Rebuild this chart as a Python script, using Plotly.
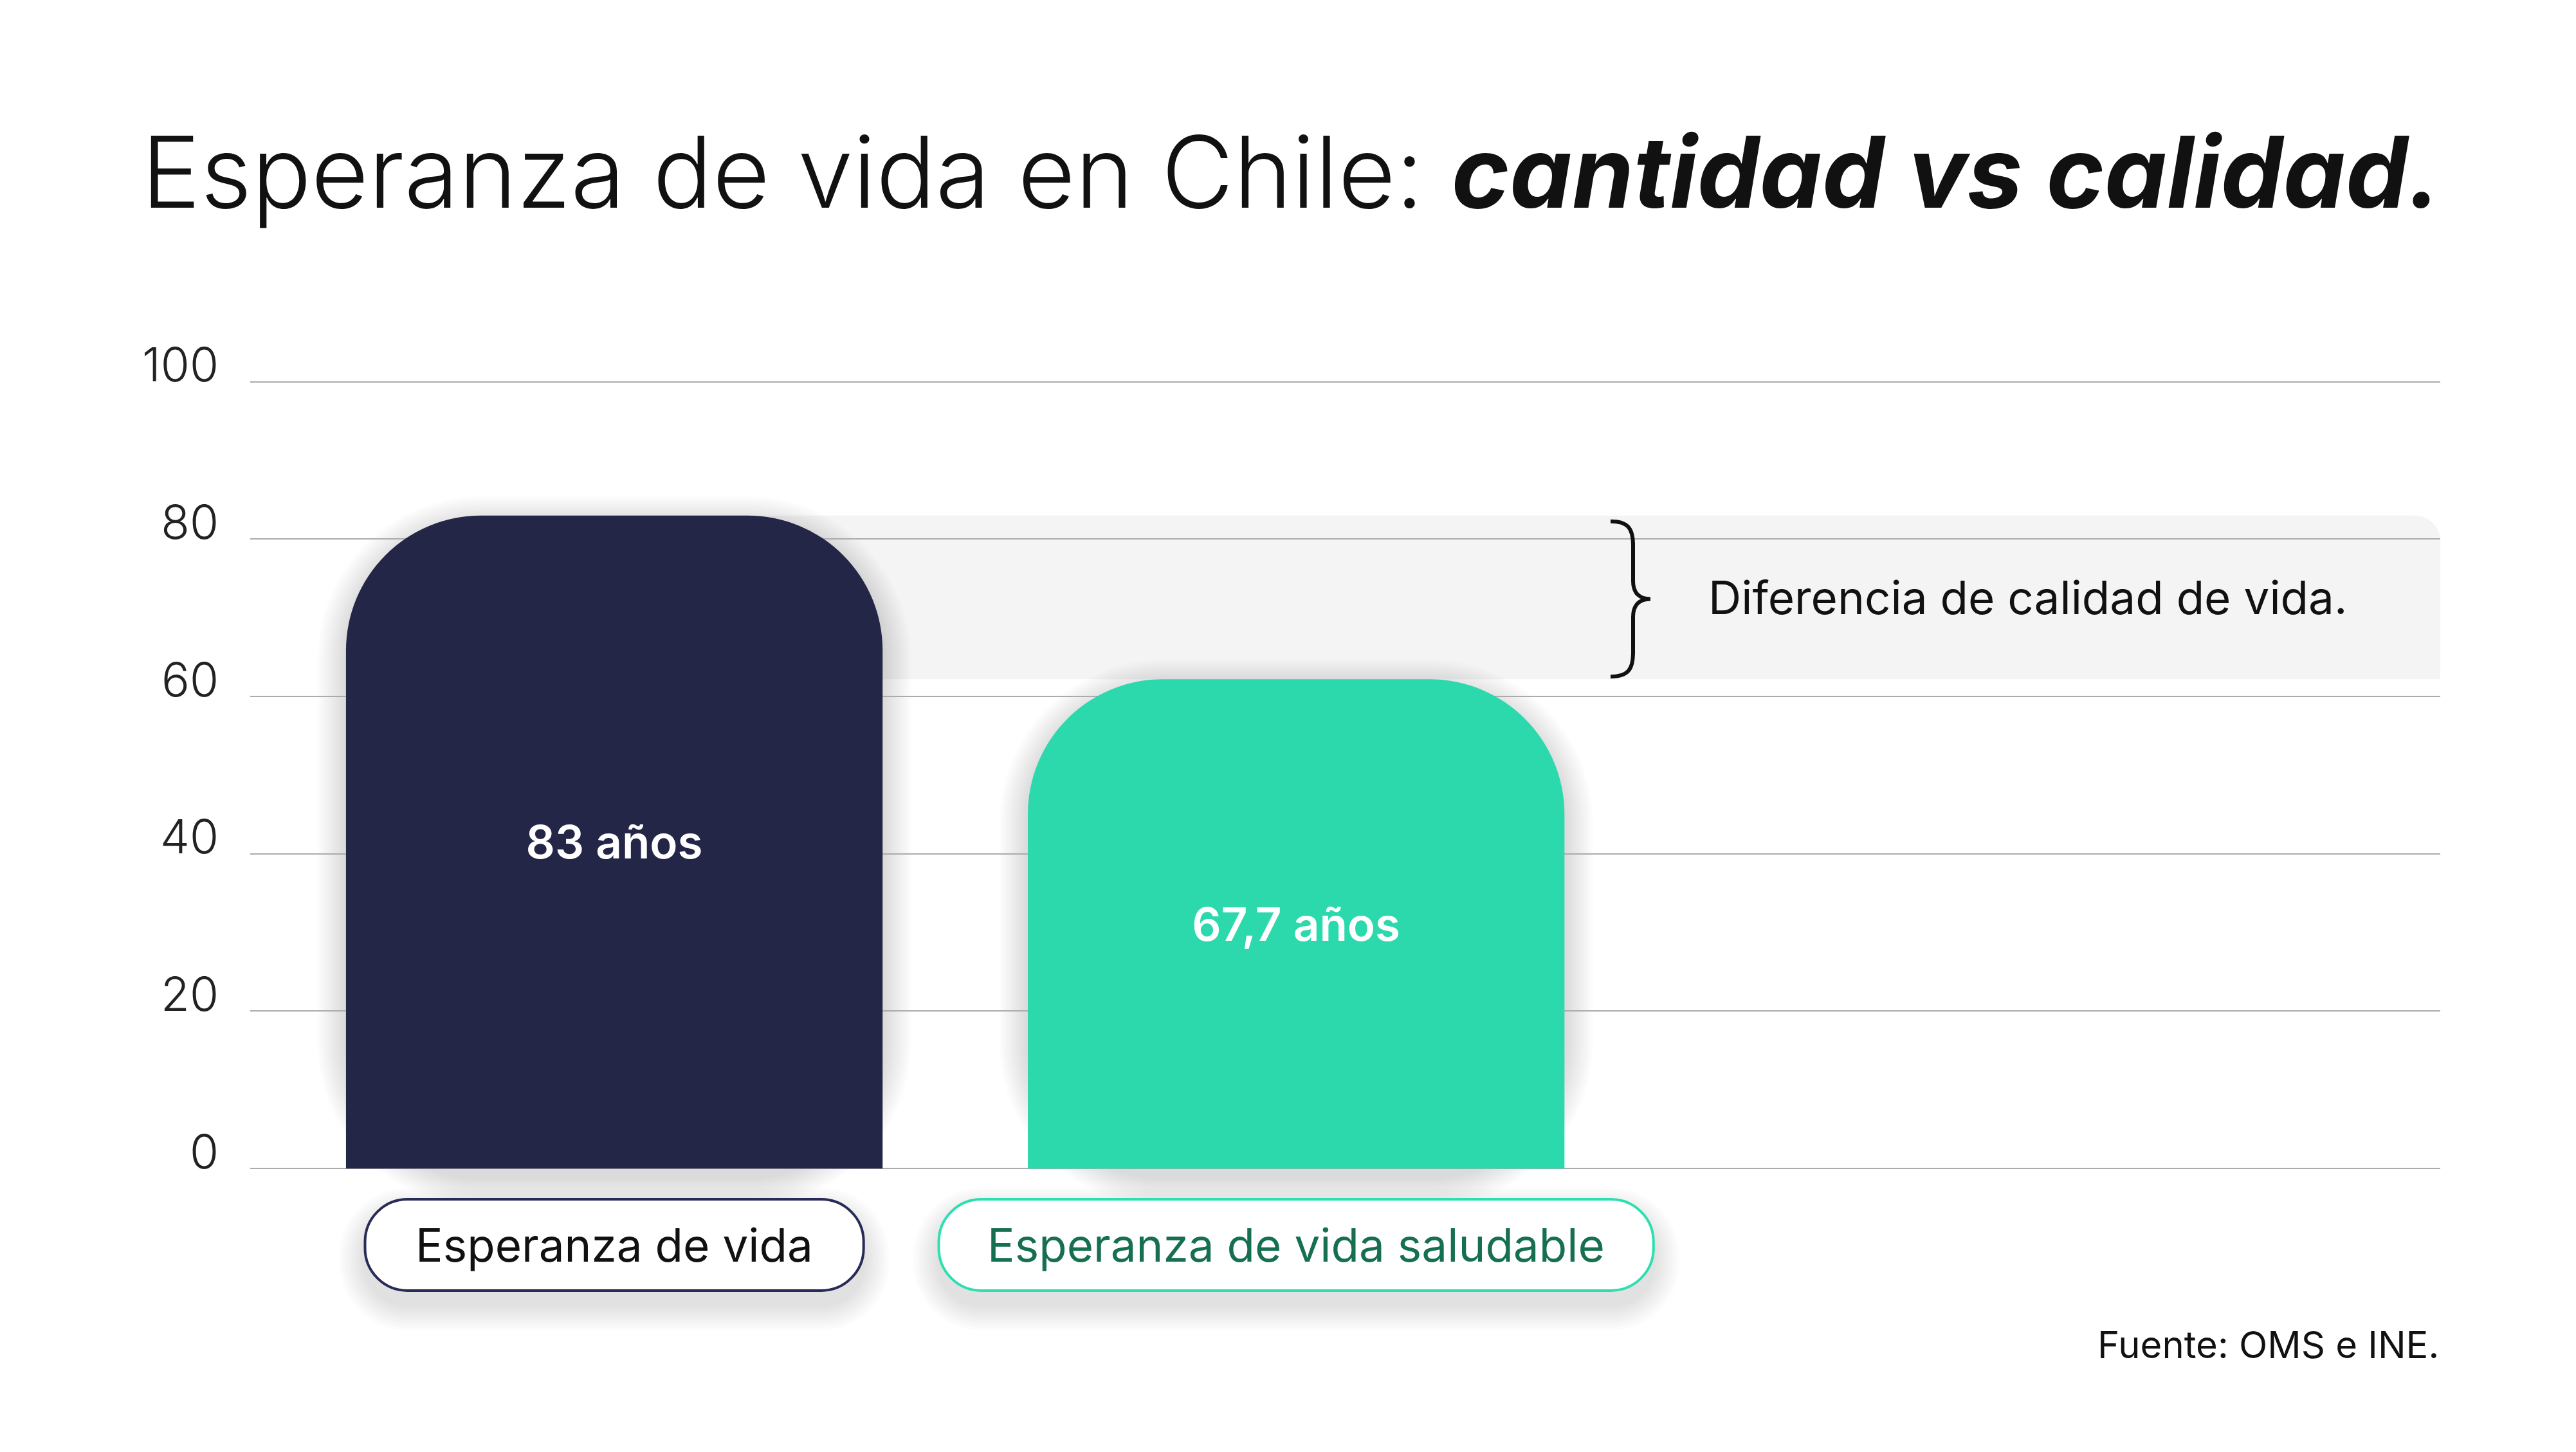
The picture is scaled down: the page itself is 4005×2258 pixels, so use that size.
"""
Esperanza de vida en Chile: cantidad vs calidad
"""
import plotly.graph_objects as go

# values
categories = ['Esperanza de vida', 'Esperanza de vida saludable']
bar_heights = [83, 62.2]
value_labels = ['83 años', '67,7 años']
y_ticks = [0, 20, 40, 60, 80, 100]
gap_label = 'Diferencia de calidad de vida.'
source_label = 'Fuente: OMS e INE.'

bar_colors = ['#232647', '#2BD9AD']
pill_borders = ['#282A57', '#2DDFB0']
pill_text_colors = ['#111111', '#166F4F']

W, H = 4005, 2258
FONT = 'Inter'
BAR_WIDTH = 0.787

# plot area in pixels (the page body adds 8px on top/left)
PLOT_LEFT, PLOT_RIGHT = 381, 3786
X_RANGE = [-0.534, 2.678]
Y_RANGE = [-0.5, 101]
Y_ZERO_PX = 1809.2
PX_PER_UNIT = 12.235
PLOT_TOP = Y_ZERO_PX - Y_RANGE[1] * PX_PER_UNIT
PLOT_BOTTOM = Y_ZERO_PX - Y_RANGE[0] * PX_PER_UNIT


def x_px(xv):
    span = X_RANGE[1] - X_RANGE[0]
    return PLOT_LEFT + (xv - X_RANGE[0]) / span * (PLOT_RIGHT - PLOT_LEFT)


def y_px(v):
    return Y_ZERO_PX - v * PX_PER_UNIT


def px(x, y):
    """pixel position -> paper coordinates string"""
    return f'{x / W:.5f},{1 - y / H:.5f}'


def rounded_path(x0, y0, x1, y1, r, tl=True, tr=True, br=True, bl=True):
    k = 0.5523 * r
    p = ['M' + px(x0 + (r if tl else 0), y0)]
    if tr:
        p.append('L' + px(x1 - r, y0))
        p.append('C' + px(x1 - r + k, y0) + ' ' + px(x1, y0 + r - k) + ' ' + px(x1, y0 + r))
    else:
        p.append('L' + px(x1, y0))
    if br:
        p.append('L' + px(x1, y1 - r))
        p.append('C' + px(x1, y1 - r + k) + ' ' + px(x1 - r + k, y1) + ' ' + px(x1 - r, y1))
    else:
        p.append('L' + px(x1, y1))
    if bl:
        p.append('L' + px(x0 + r, y1))
        p.append('C' + px(x0 + r - k, y1) + ' ' + px(x0, y1 - r + k) + ' ' + px(x0, y1 - r))
    else:
        p.append('L' + px(x0, y1))
    if tl:
        p.append('L' + px(x0, y0 + r))
        p.append('C' + px(x0, y0 + r - k) + ' ' + px(x0 + r - k, y0) + ' ' + px(x0 + r, y0))
    else:
        p.append('L' + px(x0, y0))
    return ' '.join(p) + ' Z'


def soft_shadow(x0, y0, x1, y1, r, offset=18, spread=48, steps=12, alpha=0.011):
    """stack of faint rounded rects, a poor man's blur"""
    out = []
    for i in range(steps, 0, -1):
        e = spread * i / steps
        out.append(dict(
            type='path', xref='paper', yref='paper', layer='below',
            path=rounded_path(x0 - e, y0 - e + offset, x1 + e, y1 + e + offset, r + e),
            fillcolor=f'rgba(0,0,0,{alpha})', line=dict(width=0),
        ))
    return out


fig = go.Figure()

fig.add_trace(go.Bar(
    x=list(range(len(categories))),
    y=bar_heights,
    width=BAR_WIDTH,
    marker=dict(color=bar_colors, cornerradius=210, line=dict(width=0)),
    text=value_labels,
    textposition='inside',
    insidetextanchor='middle',
    textangle=0,
    constraintext='none',
    textfont=dict(family=FONT, size=71, color='white', weight=600),
    hoverinfo='skip',
))

shapes = []

# grey band showing the gap between both bars
band_top, band_bottom = max(bar_heights), min(bar_heights)
shapes.append(dict(
    type='path', xref='paper', yref='paper', layer='below',
    path=rounded_path(x_px(0), y_px(band_top), PLOT_RIGHT, y_px(band_bottom), 40,
                      tl=False, br=False, bl=False),
    fillcolor='#F4F4F4', line=dict(width=0),
))

# bar shadows
for i, h in enumerate(bar_heights):
    shapes += soft_shadow(x_px(i - BAR_WIDTH / 2), y_px(h), x_px(i + BAR_WIDTH / 2),
                          y_px(0), 210, offset=14, spread=44)

# curly brace
yt = y_px(band_top) + 9
yb = y_px(band_bottom) - 4
ym = (yt + yb) / 2
bx0, bx1, bx2 = 2496, 2531, 2558
brace = ('M' + px(bx0, yt)
         + ' C' + px(bx0 + 26, yt) + ' ' + px(bx1, yt + 10) + ' ' + px(bx1, yt + 37)
         + ' L' + px(bx1, ym - 28)
         + ' C' + px(bx1, ym - 8) + ' ' + px(bx1 + 11, ym) + ' ' + px(bx2, ym)
         + ' C' + px(bx1 + 11, ym) + ' ' + px(bx1, ym + 8) + ' ' + px(bx1, ym + 28)
         + ' L' + px(bx1, yb - 37)
         + ' C' + px(bx1, yb - 10) + ' ' + px(bx0 + 26, yb) + ' ' + px(bx0, yb))
shapes.append(dict(
    type='path', xref='paper', yref='paper', path=brace,
    fillcolor='rgba(0,0,0,0)', line=dict(color='#111111', width=6),
))

annotations = []

# category pills under the bars
pill_top, pill_bottom = 1857, 1999
for i, cat in enumerate(categories):
    cx = x_px(i)
    half = (len(cat) * 33.6 + 204) / 2
    shapes += soft_shadow(cx - half, pill_top, cx + half, pill_bottom, 66,
                          offset=22, spread=40, steps=10, alpha=0.012)
    shapes.append(dict(
        type='path', xref='paper', yref='paper',
        path=rounded_path(cx - half, pill_top, cx + half, pill_bottom, 66),
        fillcolor='white', line=dict(color=pill_borders[i], width=4),
    ))
    annotations.append(dict(
        x=i, xref='x', y=1 - (pill_top + pill_bottom) / 2 / H, yref='paper',
        text=cat, showarrow=False, xanchor='center', yanchor='middle',
        font=dict(family=FONT, size=71, color=pill_text_colors[i]),
    ))

annotations.append(dict(
    x=2646 / W, xref='paper', y=(band_top + band_bottom) / 2, yref='y',
    text=gap_label, showarrow=False, xanchor='left', yanchor='middle',
    font=dict(family=FONT, size=71, color='#111111'),
))

annotations.append(dict(
    x=PLOT_RIGHT / W, xref='paper', y=1 - 2083 / H, yref='paper',
    text=source_label, showarrow=False, xanchor='right', yanchor='middle',
    font=dict(family=FONT, size=58, color='#111111'),
))

fig.update_layout(
    width=W, height=H,
    margin=dict(l=0, r=0, t=0, b=0, autoexpand=False),
    paper_bgcolor='white', plot_bgcolor='white',
    showlegend=False,
    hovermode=False,
    title=dict(
        text='Esperanza de vida en Chile: <b><i>cantidad vs calidad.</i></b>',
        x=212 / W, xanchor='left', xref='paper',
        y=1 - 261 / H, yanchor='middle', yref='paper', automargin=False,
        font=dict(family=FONT, size=154, color='#111111', weight=300),
    ),
    xaxis=dict(
        domain=[PLOT_LEFT / W, PLOT_RIGHT / W], automargin=False,
        range=X_RANGE, showticklabels=False, showgrid=False,
        zeroline=False, showline=False, ticks='',
    ),
    yaxis=dict(
        domain=[1 - PLOT_BOTTOM / H, 1 - PLOT_TOP / H], automargin=False,
        range=Y_RANGE, tickvals=y_ticks, showgrid=True,
        gridcolor='#ABABAB', gridwidth=1.5, zeroline=False, showline=False,
        ticks='', ticklabelstandoff=48, ticklabelshift=-26,
        tickfont=dict(family=FONT, size=73, color='#222222', weight=300),
    ),
    shapes=shapes,
    annotations=annotations,
)

fig.write_html('out.html')
